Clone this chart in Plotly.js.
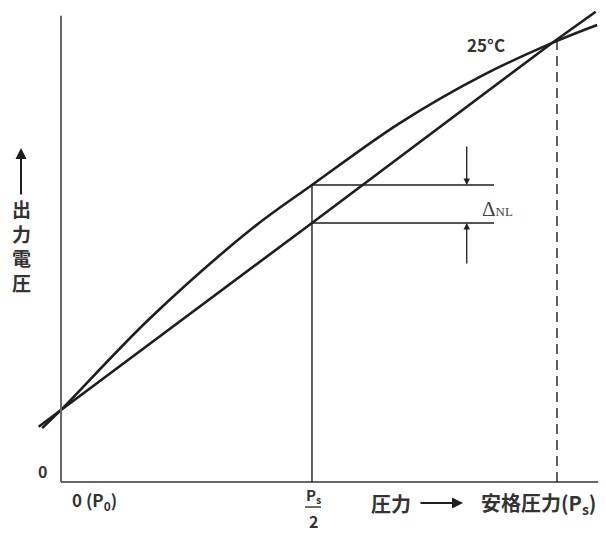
<!DOCTYPE html>
<html>
<head>
<meta charset="utf-8">
<script src="https://cdn.plot.ly/plotly-3.0.1.min.js"></script>
<style>
html,body{margin:0;padding:0;background:#fff;}
#chart{width:606px;height:536px;}
</style>
</head>
<body>
<div id="chart"></div>
<script>
// ---- data ----
const curvePressure = [-0.038, 0, 0.179, 0.387, 0.506, 0.683, 0.85, 1.0, 1.081];
const curveOutput   = [0.122, 0.163, 0.370, 0.575, 0.672, 0.812, 0.920, 0.998, 1.034];
const linePressure  = [-0.045, 0, 0.506, 0.992, 1.078];
const lineOutput    = [0.125, 0.163, 0.586, 0.995, 1.064];
const halfPs = 0.506;    // Ps/2
const ratedPs = 1.0;     // Ps
const curveAtHalf = 0.672;
const lineAtHalf = 0.586;
const tempLabel = '25°C';
const xTickLabels = ['0 (P<sub>0</sub>)', 'P<sub>s</sub>', '2'];
const yTickLabel = '0';
const xTitle = '安格圧力(P<sub>s</sub>)';
const xTitlePre = '圧力';
const yTitle = '出力電圧';
const deltaLabel = 'Δ<span style="font-size:13px">NL</span>';

// ---- layout helpers (pixel -> paper) ----
const W = 606, H = 536;
const P = px => px / W;
const Q = py => 1 - py / H;
const FONT = '"Noto Sans CJK JP", "Noto Sans", sans-serif';
const ink = '#1e1e1e';
const txt = '#333';

const traces = [
  {x: curvePressure, y: curveOutput, mode: 'lines', line: {color: ink, width: 2.6, shape: 'spline', smoothing: 1.0}, hoverinfo: 'skip'},
  {x: linePressure, y: lineOutput, mode: 'lines', line: {color: ink, width: 2.6}, hoverinfo: 'skip'}
];

const shapes = [
  // axes
  {type: 'line', xref: 'x', yref: 'y', x0: 0, x1: 0, y0: 0, y1: 1.055, line: {color: '#666', width: 2}},
  {type: 'line', xref: 'x', yref: 'y', x0: 0, x1: 1.083, y0: 0, y1: 0, line: {color: '#666', width: 2}},
  // Ps/2 vertical
  {type: 'line', xref: 'x', yref: 'y', x0: halfPs, x1: halfPs, y0: 0, y1: curveAtHalf, line: {color: ink, width: 1.4}},
  // Ps dashed vertical
  {type: 'line', xref: 'x', yref: 'y', x0: ratedPs, x1: ratedPs, y0: 0, y1: 0.998, line: {color: ink, width: 1.4, dash: '10px,6px'}},
  // delta NL horizontals
  {type: 'line', xref: 'x', yref: 'y', x0: halfPs, x1: 0.873, y0: curveAtHalf, y1: curveAtHalf, line: {color: ink, width: 1.4}},
  {type: 'line', xref: 'x', yref: 'y', x0: halfPs, x1: 0.873, y0: lineAtHalf, y1: lineAtHalf, line: {color: ink, width: 1.4}},
  // fraction bar
  {type: 'line', xref: 'paper', yref: 'paper', x0: P(305), x1: P(321), y0: Q(507), y1: Q(507), line: {color: ink, width: 1.3}}
];

function label(px, py, text, size, extra) {
  return Object.assign({xref: 'paper', yref: 'paper', x: P(px), y: Q(py), xanchor: 'center', yanchor: 'middle',
    text: text, showarrow: false, font: {size: size, color: txt, family: FONT, weight: 'bold'}}, extra || {});
}

const ann = [
  label(486, 44, tempLabel, 17),
  label(42, 471, yTickLabel, 16),
  label(94, 500, xTickLabels[0], 17),
  label(313, 495, xTickLabels[1], 15),
  label(313, 521, xTickLabels[2], 16),
  label(391, 503, xTitlePre, 20),
  label(538, 503, xTitle, 20),
  // x arrow
  {xref: 'paper', yref: 'paper', x: P(463), y: Q(503), axref: 'pixel', ayref: 'pixel', ax: -44, ay: 0, text: '', showarrow: true, arrowhead: 2, arrowsize: 1.1, arrowwidth: 2, arrowcolor: ink},
  // y title
  label(21, 245, yTitle.split('').join('<br>'), 19),
  {xref: 'paper', yref: 'paper', x: P(21), y: Q(148), axref: 'pixel', ayref: 'pixel', ax: 0, ay: 48, text: '', showarrow: true, arrowhead: 2, arrowsize: 1.1, arrowwidth: 2, arrowcolor: ink},
  // delta NL
  label(497, 209, deltaLabel, 21, {font: {size: 21, color: '#444', family: '"Liberation Serif", serif'}}),
  {xref: 'x', yref: 'y', x: 0.818, y: curveAtHalf, axref: 'pixel', ayref: 'pixel', ax: 0, ay: -40, text: '', showarrow: true, arrowhead: 2, arrowsize: 1, arrowwidth: 1.3, arrowcolor: ink},
  {xref: 'x', yref: 'y', x: 0.818, y: lineAtHalf, axref: 'pixel', ayref: 'pixel', ax: 0, ay: 42, text: '', showarrow: true, arrowhead: 2, arrowsize: 1, arrowwidth: 1.3, arrowcolor: ink}
];

const layout = {
  width: W, height: H,
  margin: {l: 0, r: 0, t: 0, b: 0, pad: 0},
  paper_bgcolor: '#fff', plot_bgcolor: '#fff',
  showlegend: false,
  xaxis: {range: [(0 - 61) / 496, (606 - 61) / 496], visible: false, fixedrange: true},
  yaxis: {range: [(482 - 536) / 442, 482 / 442], visible: false, fixedrange: true},
  shapes: shapes,
  annotations: ann
};

Plotly.newPlot('chart', traces, layout, {displayModeBar: false, staticPlot: true});
</script>
</body>
</html>
